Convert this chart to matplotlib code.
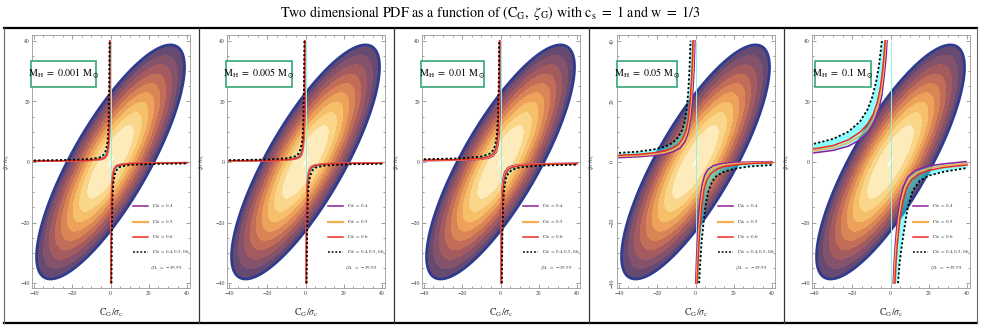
import numpy as np
import matplotlib
matplotlib.use('Agg')
import matplotlib.pyplot as plt
from matplotlib.lines import Line2D
from matplotlib.patches import Rectangle, Polygon
from matplotlib.ticker import MultipleLocator

plt.rcParams['mathtext.fontset'] = 'stix'
plt.rcParams['font.family'] = ['STIXGeneral', 'DejaVu Serif']

# ---------------- data ----------------
masses = ['0.001', '0.005', '0.01', '0.05', '0.1']
cth_labels = ['0.4', '0.5', '0.6', '0.4, 0.5, 0.6']
zeta_gl = '-39.95'

# bivariate Gaussian PDF shape
pdf_sigma = 18.0
pdf_rho = 0.81
pdf_outer_d = 2.146                     # Mahalanobis radius of the outer contour
pdf_radii = [0.0, 0.05, 0.32, 0.43, 0.52, 0.60, 0.68, 0.76, 0.84, 0.92, 1.0]   # contour radii / outer
ref_x = 0.0

# threshold curves: (x list, y list) per curve, upper-left and lower-right branches
m0001_upper = {
    'dot':    ([-40, -20, -10, -5, -3.3, -2.3, -1.5, -1.0, -0.7, -0.5], [0.5, 0.7, 1.0, 1.6, 2.6, 4.0, 7.0, 13, 25, 40]),
    'red':    ([-40, -20, -10, -5, -3, -2, -1.3, -0.8, -0.5, -0.3], [0.3, 0.4, 0.6, 1.0, 1.6, 2.5, 4.5, 9, 20, 40]),
    'orange': ([-40, -20, -10, -5, -3, -1.9, -1.2, -0.7, -0.4, -0.2], [0.25, 0.35, 0.55, 0.9, 1.4, 2.3, 4.2, 8.5, 20, 40]),
    'purple': ([-40, -20, -10, -5, -3, -1.8, -1.1, -0.6, -0.3, -0.1], [0.2, 0.3, 0.5, 0.8, 1.2, 2.2, 4.0, 8, 20, 40]),
}
m0001_lower = {
    'dot':    ([0.5, 0.7, 1.0, 1.5, 2.3, 3.3, 5, 10, 20, 40], [-40, -25, -13, -7.0, -4.0, -2.6, -1.6, -1.0, -0.7, -0.5]),
    'red':    ([0.3, 0.5, 0.8, 1.3, 2, 3, 5, 10, 20, 40], [-40, -20, -9, -4.5, -2.5, -1.6, -1.0, -0.6, -0.4, -0.3]),
    'orange': ([0.2, 0.4, 0.7, 1.2, 1.9, 3, 5, 10, 20, 40], [-40, -20, -8.5, -4.2, -2.3, -1.4, -0.9, -0.55, -0.35, -0.25]),
    'purple': ([0.1, 0.3, 0.6, 1.1, 1.8, 3, 5, 10, 20, 40], [-40, -20, -8, -4.0, -2.2, -1.2, -0.8, -0.5, -0.3, -0.2]),
}
m0005_upper = {
    'dot':    ([-40, -20, -10, -5, -3.5, -2.5, -1.6, -1.1, -0.8, -0.6], [0.6, 0.8, 1.2, 1.9, 2.9, 4.4, 7.6, 14, 26, 40]),
    'red':    ([-40, -20, -10, -5, -3.2, -2.2, -1.4, -0.9, -0.6, -0.4], [0.4, 0.5, 0.7, 1.2, 1.9, 2.9, 5, 10, 21, 40]),
    'orange': ([-40, -20, -10, -5, -3.1, -2.0, -1.3, -0.8, -0.5, -0.3], [0.3, 0.45, 0.65, 1.1, 1.7, 2.7, 4.7, 9.5, 20.5, 40]),
    'purple': ([-40, -20, -10, -5, -3, -1.9, -1.2, -0.7, -0.4, -0.2], [0.25, 0.4, 0.6, 1.0, 1.5, 2.5, 4.4, 9, 20, 40]),
}
m0005_lower = {
    'dot':    ([0.6, 0.8, 1.1, 1.6, 2.5, 3.5, 5, 10, 20, 40], [-40, -26, -14, -7.6, -4.4, -2.9, -1.9, -1.2, -0.8, -0.6]),
    'red':    ([0.4, 0.6, 0.9, 1.4, 2.2, 3.2, 5, 10, 20, 40], [-40, -21, -10, -5, -2.9, -1.9, -1.2, -0.7, -0.5, -0.4]),
    'orange': ([0.3, 0.5, 0.8, 1.3, 2.0, 3.1, 5, 10, 20, 40], [-40, -20.5, -9.5, -4.7, -2.7, -1.7, -1.1, -0.65, -0.45, -0.3]),
    'purple': ([0.2, 0.4, 0.7, 1.2, 1.9, 3, 5, 10, 20, 40], [-40, -20, -9, -4.4, -2.5, -1.5, -1.0, -0.6, -0.4, -0.25]),
}
m001_upper = {
    'dot':    ([-40, -20, -10, -6, -4, -2.8, -1.9, -1.3, -0.9, -0.7], [0.9, 1.2, 1.8, 2.6, 3.8, 5.5, 9, 15, 27, 40]),
    'red':    ([-40, -20, -10, -6, -4, -2.6, -1.7, -1.1, -0.7, -0.5], [0.6, 0.8, 1.2, 1.8, 2.6, 4, 6.5, 11, 22, 40]),
    'orange': ([-40, -20, -10, -6, -4, -2.4, -1.5, -0.9, -0.5, -0.3], [0.5, 0.7, 1.0, 1.5, 2.2, 3.6, 6, 10.5, 21, 40]),
    'purple': ([-40, -20, -10, -6, -4, -2.2, -1.3, -0.7, -0.3, -0.1], [0.4, 0.6, 0.9, 1.3, 1.9, 3.3, 5.6, 10, 20, 40]),
}
m001_lower = {
    'dot':    ([0.7, 0.9, 1.3, 1.9, 2.8, 4, 6, 10, 20, 40], [-40, -27, -15, -9, -5.5, -3.8, -2.6, -1.8, -1.2, -0.9]),
    'red':    ([0.5, 0.7, 1.1, 1.7, 2.6, 4, 6, 10, 20, 40], [-40, -22, -11, -6.5, -4, -2.6, -1.8, -1.2, -0.8, -0.6]),
    'orange': ([0.3, 0.5, 0.9, 1.5, 2.4, 4, 6, 10, 20, 40], [-40, -21, -10.5, -6, -3.6, -2.2, -1.5, -1.0, -0.7, -0.5]),
    'purple': ([0.1, 0.3, 0.7, 1.3, 2.2, 4, 6, 10, 20, 40], [-40, -20, -10, -5.6, -3.3, -1.9, -1.3, -0.9, -0.6, -0.4]),
}
m005_upper = {
    'dot':    ([-40, -30, -22, -16, -12, -9, -7, -5.6, -4.6, -3.8, -3.2, -2.6],
               [3.0, 3.4, 4.1, 5.0, 6.3, 8.2, 10.5, 13.5, 17.5, 23, 30, 40]),
    'red':    ([-40, -30, -22, -16, -12, -9, -6.8, -5, -3.8, -2.8, -2.0, -1.3],
               [2.2, 2.5, 3.0, 3.7, 4.6, 5.8, 7.6, 10.3, 14, 20, 28, 40]),
    'orange': ([-40, -30, -22, -16, -12, -8.5, -6, -4.3, -3.1, -2.2, -1.4, -0.8],
               [1.8, 2.1, 2.5, 3.1, 3.9, 5.2, 7.2, 10.2, 14.5, 20.5, 29, 40]),
    'purple': ([-40, -30, -22, -16, -12, -8, -5.4, -3.7, -2.5, -1.6, -0.8, -0.3],
               [1.4, 1.7, 2.1, 2.6, 3.3, 4.6, 6.8, 10, 14.5, 21, 30, 40]),
}
m005_lower = {
    'dot':    ([1.9, 2.4, 3.1, 4.2, 5.3, 6.8, 8.8, 11.2, 15, 20, 28, 40],
               [-40, -34, -27, -20, -14, -9.5, -6.3, -4.5, -3.2, -2.3, -1.5, -1.0]),
    'red':    ([0.9, 1.3, 1.8, 2.6, 3.4, 4.5, 6, 8, 11, 15, 22, 30, 40],
               [-40, -34, -27, -20, -14, -9, -5.8, -3.8, -2.4, -1.5, -0.9, -0.5, -0.3]),
    'orange': ([0.5, 0.9, 1.5, 2.2, 3.0, 4.0, 5.4, 7.2, 10, 14, 21, 30, 40],
               [-40, -33, -25, -18.5, -12.8, -8.2, -5, -3.1, -1.8, -1.0, -0.5, -0.25, -0.1]),
    'purple': ([0.1, 0.5, 1.1, 1.8, 2.6, 3.5, 4.8, 6.5, 9, 13, 20, 30, 40],
               [-40, -32, -24, -17, -11.5, -7.3, -4.3, -2.5, -1.3, -0.6, -0.2, 0.0, 0.1]),
}
m01_upper = {
    'dot':    ([-40, -30, -22, -16, -12, -9.5, -7.5, -6, -4.5],
               [6, 7.6, 10, 13.3, 17.3, 21.5, 26.5, 32, 40]),
    'red':    ([-40, -30, -22, -16, -12, -9, -7, -5.3, -4.0, -2.8],
               [4.3, 5.4, 7.3, 9.8, 12.5, 15.8, 19.5, 24.5, 31, 40]),
    'orange': ([-40, -30, -22, -16, -12, -9, -6.8, -5, -3.6, -2.3],
               [3.7, 4.6, 6.3, 8.6, 11, 14.2, 18, 23, 30, 40]),
    'purple': ([-40, -30, -22, -16, -12, -9, -6.5, -4.5, -3.2, -2.4, -1.8],
               [3, 3.8, 5.2, 7.3, 9.5, 12.5, 16.5, 22, 29, 34, 40]),
}
m01_lower = {
    'dot':    ([3.9, 4.8, 5.8, 7.2, 9.0, 11.6, 15.3, 20, 28, 40],
               [-40, -33, -28, -22, -15, -9.5, -6.2, -4.5, -3.2, -2]),
    'red':    ([2.3, 2.9, 3.6, 4.9, 6.5, 8.5, 11, 15, 20, 28, 40],
               [-40, -33, -27, -19, -13, -8.5, -5.9, -4.0, -2.8, -1.8, -1]),
    'orange': ([1.8, 2.3, 3.0, 4.2, 5.6, 7.5, 10, 14, 20, 28, 40],
               [-40, -33, -27, -19, -13, -8.5, -5.5, -3.5, -2.1, -1.2, -0.5]),
    'purple': ([1.4, 1.9, 2.5, 3.6, 4.9, 6.6, 9, 13, 20, 28, 39.5],
               [-40, -33, -27, -19, -13, -8.3, -5, -2.8, -1.3, -0.6, 0.1]),
}
curves = [(m0001_upper, m0001_lower), (m0005_upper, m0005_lower), (m001_upper, m001_lower),
          (m005_upper, m005_lower), (m01_upper, m01_lower)]

# ---------------- style ----------------
W, H = 981, 327
fig = plt.figure(figsize=(W / 100, H / 100), dpi=100)

# colours from the centre outwards
band_colors = ['#FFF8E8', '#FDEBBC', '#FAD68B', '#F6BF69', '#EDA25C', '#DA8556',
               '#C26D58', '#A45B60', '#84536B', '#674A72']
outline_color = '#2F3C8E'
line_colors = {'purple': '#8E1E9E', 'orange': '#F6AE52', 'red': '#EE2A1E'}
band_fill = '#00FFFF'
box_color = '#33A874'

ax_left0, ax_w, ax_top, ax_bot = 32, 158, 35, 288.3
panel_step = 195
box_px = [(31, 96), (226, 292), (421, 484), (617, 677), (815, 871)]

x = np.linspace(-42, 42, 500)
X, Y = np.meshgrid(x, x)
D2 = (X ** 2 - 2 * pdf_rho * X * Y + Y ** 2) / ((1 - pdf_rho ** 2) * pdf_sigma ** 2)
R = np.sqrt(D2) / pdf_outer_d

for i, m in enumerate(masses):
    L = ax_left0 + i * panel_step
    ax = fig.add_axes([L / W, 1 - ax_bot / H, ax_w / W, (ax_bot - ax_top) / H])
    ax.contourf(X, Y, R, levels=pdf_radii, colors=band_colors, zorder=1)
    ax.contour(X, Y, R, levels=[pdf_radii[-1]], colors=outline_color, linewidths=2.0, zorder=2)
    ax.vlines(ref_x, -40, 40, color='#8CF2E6', lw=0.7, zorder=3)

    for br in curves[i]:
        dx, dy = br['dot']
        px, py = br['purple']
        poly = np.column_stack([list(dx) + list(px)[::-1], list(dy) + list(py)[::-1]])
        ax.add_patch(Polygon(poly, closed=True, facecolor=band_fill, alpha=0.45,
                             edgecolor='none', zorder=4))
        for key in ['purple', 'orange', 'red']:
            cx, cy = br[key]
            ax.plot(cx, cy, color=line_colors[key], lw=1.1, zorder=5)
        ax.plot(dx, dy, color='black', lw=1.3, ls=(0, (1.2, 1.2)), zorder=6)

    ax.set_xlim(-41, 41.5)
    ax.set_ylim(-41.7, 41.9)
    ax.set_xticks([-40, -20, 0, 20, 40])
    ax.set_yticks([-40, -20, 0, 20, 40])
    ax.xaxis.set_minor_locator(MultipleLocator(5))
    ax.yaxis.set_minor_locator(MultipleLocator(5))
    ax.tick_params(which='both', direction='in', top=True, right=True,
                   color='#777777', width=0.5, labelsize=4, pad=1.5, labelcolor='#333333')
    ax.tick_params(which='major', length=3)
    ax.tick_params(which='minor', length=1.5)
    if i == 3:
        for t in ax.get_yticklabels():
            t.set_rotation(90)
            t.set_va('center')
    for s in ax.spines.values():
        s.set_color('#999999')
        s.set_linewidth(0.6)

    ax.set_xlabel(r'$\mathrm{C_G}/\sigma_\mathrm{c}$', fontsize=7, color='#333333')
    ax.xaxis.set_label_coords(0.5, -18 / (ax_bot - ax_top))
    ax.set_ylabel(r'$\zeta_{\mathrm{G}}\,/\,\sigma_\zeta$', fontsize=4.5, color='#333333')
    ax.yaxis.set_label_coords(-19 / ax_w, 0.5)

    # mass box
    bl, br_ = box_px[i]
    bx0 = (bl - L) / ax_w
    bw = (br_ - bl) / ax_w
    by0 = (ax_bot - 87) / (ax_bot - ax_top)
    bh = 26 / (ax_bot - ax_top)
    ax.add_patch(Rectangle((bx0, by0), bw, bh, transform=ax.transAxes, facecolor='white',
                           edgecolor=box_color, lw=1.2, clip_on=False, zorder=10))
    ax.text(bx0 + bw / 2, by0 + bh / 2, r'$\mathrm{M_H}\ =\ %s\ \mathrm{M_\odot}$' % m,
            transform=ax.transAxes, ha='center', va='center', fontsize=7.2, zorder=11)

    # legend (manual)
    rows = [206, 222, 237, 252]
    styles = [dict(color=line_colors['purple'], lw=1.1), dict(color=line_colors['orange'], lw=1.6),
              dict(color=line_colors['red'], lw=1.1), dict(color='black', lw=1.1, ls=(0, (1.2, 1.2)))]
    for r, st, lab in zip(rows, styles, cth_labels):
        yy = (ax_bot - r) / (ax_bot - ax_top)
        ax.plot([(133 - 32) / ax_w, (148 - 32) / ax_w], [yy, yy], transform=ax.transAxes,
                zorder=12, **st)
        ax.text((152 - 32) / ax_w, yy, r'$\mathrm{C_{th}}\ =\ %s$' % lab, transform=ax.transAxes,
                fontsize=3.6, va='center', ha='left', zorder=12, color='#333333')
    ax.text((150 - 32) / ax_w, (ax_bot - 268) / (ax_bot - ax_top),
            r'$\zeta_{\mathrm{GL}}\ =\ %s$' % zeta_gl,
            transform=ax.transAxes, fontsize=3.6, va='center', ha='left', zorder=12, color='#333333')

# frame lines
def fline(x1, y1, x2, y2, lw=1.0, color='black'):
    fig.add_artist(Line2D([x1 / W, x2 / W], [1 - y1 / H, 1 - y2 / H], transform=fig.transFigure,
                          color=color, lw=lw))

fline(4, 28, 977, 28, lw=1.6)
fline(4, 323, 977, 323, lw=1.6)
fline(4, 28, 4, 323, lw=0.8, color='#666666')
fline(977, 28, 977, 323, lw=0.8, color='#666666')
for sx in [199, 394, 589, 784]:
    fline(sx, 28, sx, 323, lw=0.9, color='#333333')

fig.text(490 / W, 1 - 13 / H,
         r'Two dimensional PDF as a function of $(\mathrm{C_G},\ \zeta_\mathrm{G})$ with $\mathrm{c_s}\ =\ 1$ and $\mathrm{w}\ =\ 1/3$',
         ha='center', va='center', fontsize=10.2)

fig.savefig('out.png', dpi=100)
